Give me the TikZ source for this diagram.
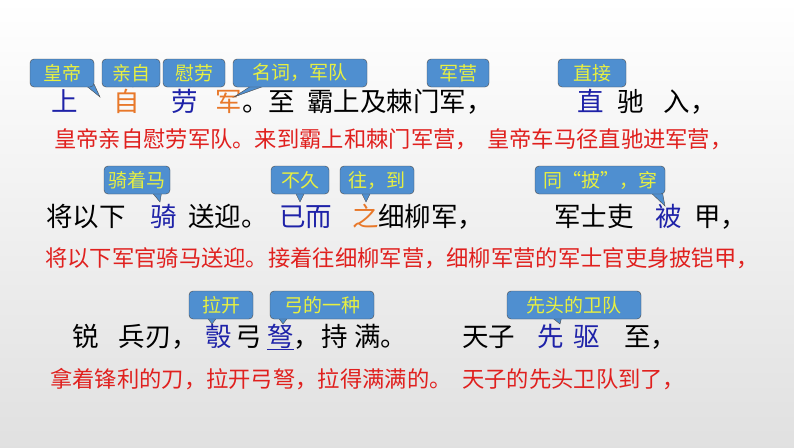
\documentclass[tikz,border=0pt]{standalone}
\usepackage{fontspec}
\setmainfont{Noto Sans CJK SC}
\begin{document}
\begin{tikzpicture}[x=1pt,y=-1pt,
  bub/.style={draw=black!70,fill=bubfill,rounded corners=4pt,text=bubtext,font=\fontsize{19}{19}\selectfont,inner sep=1pt,minimum height=28,anchor=center},
  mt/.style={font=\fontsize{26.5}{26.5}\selectfont,inner sep=0pt,anchor=base west},
  rt/.style={font=\fontsize{22.3}{22.3}\selectfont,inner sep=0pt,anchor=base west,text=redc}]
\definecolor{bubfill}{HTML}{4F8FD0}
\definecolor{bubtext}{HTML}{E8F040}
\definecolor{bluec}{HTML}{1E22A8}
\definecolor{orc}{HTML}{E8782A}
\definecolor{redc}{HTML}{E0201E}
\shade[top color=white,bottom color=black!12] (0,0) rectangle (794,447);
\useasboundingbox (0,0) rectangle (794,447);
\newcommand{\bb}[5]{%
  \node[bub,minimum width=#3] (#1) at (#2,#4) {#5};}
\newcommand{\tail}[4]{%
  \fill[bubfill] (#2,#1) -- (#4) -- (#3,#1) -- cycle;
  \draw[black!70] (#2,#1) -- (#4) -- (#3,#1);}
% line 1
\node[mt,text=bluec] (a1) at (51,111) {上};
\node[mt,text=orc] (a2) at (113,111) {自};
\node[mt,text=bluec] (a3) at (171,111) {劳};
\node[mt,text=orc] (a4) at (215,111) {军};
\node[mt] (a5) at (242,111) {。至\hspace{12pt}霸上及棘门军，};
\node[mt,text=bluec] (a6) at (577,111) {直};
\node[mt] (a7) at (617,111) {驰\hspace{20pt}入，};
\coordinate (t1) at (100,97); \coordinate (t2) at (133,87); \coordinate (t3) at (190,87);
\coordinate (t4) at (234,97); \coordinate (t5) at (460,87); \coordinate (t6) at (588,87);
\tail{84}{84}{94}{t1}\tail{84}{124}{134}{t2}\tail{84}{186}{196}{t3}\tail{84}{254}{270}{t4}
\tail{84}{452}{462}{t5}\tail{84}{582}{594}{t6}
\bb{b1}{62}{64}{73}{皇帝}
\bb{b2}{131}{58}{73}{亲自}
\bb{b3}{194}{62}{73}{慰劳}
\bb{b4}{300}{134}{73}{名词，军队}
\bb{b5}{458}{62}{73}{军营}
\bb{b6}{592}{68}{73}{直接}
\node[rt] (r1) at (54,147) {皇帝亲自慰劳军队。来到霸上和棘门军营，};
\node[rt] (r2) at (487,147) {皇帝车马径直驰进军营，};
% line 2
\node[mt] (c1) at (46,226) {将以下};
\node[mt,text=bluec] (c2) at (150,226) {骑};
\node[mt] (c3) at (188,226) {送迎。};
\node[mt,text=bluec] (c4) at (279,226) {已而};
\node[mt,text=orc] (c5) at (352,226) {之};
\node[mt] (c6) at (378,226) {细柳军，};
\node[mt] (c7) at (554,226) {军士吏};
\node[mt,text=bluec] (c8) at (655,226) {被};
\node[mt] (c9) at (694,226) {甲，};
\coordinate (u1) at (160,202); \coordinate (u2) at (300,202); \coordinate (u3) at (366,202); \coordinate (u4) at (665,206);
\tail{190}{150}{162}{u1}\tail{190}{294}{306}{u2}\tail{190}{360}{372}{u3}\tail{190}{648}{662}{u4}
\bb{d1}{137}{66}{180}{骑着马}
\bb{d2}{300}{58}{180}{不久}
\bb{d3}{377}{74}{180}{往，到}
\bb{d4}{600}{130}{180}{同“披”，穿}
\node[rt] (r3) at (45,266) {将以下军官骑马送迎。接着往细柳军营，细柳军营的军士官吏身披铠甲，};
% line 3
\node[mt] (e1) at (72,346) {锐\hspace{20pt}兵刃，};
\node[mt,text=bluec] (e2) at (205,346) {彀};
\node[mt] (e3) at (235,346) {弓};
\node[mt,text=bluec] (e4) at (267,346) {\underline{弩}};
\node[mt] (e5) at (293,346) {，\hspace{2pt}持\hspace{6pt}满。};
\node[mt] (e6) at (462,346) {天子};
\node[mt,text=bluec] (e7) at (537,346) {先\hspace{10pt}驱};
\node[mt] (e8) at (624,346) {至，};
\coordinate (v1) at (212,324); \coordinate (v2) at (283,324); \coordinate (v3) at (560,324);
\tail{316}{206}{218}{v1}\tail{316}{277}{289}{v2}\tail{316}{550}{562}{v3}
\bb{f1}{221}{64}{305}{拉开}
\bb{f2}{322}{104}{305}{弓的一种}
\bb{f3}{574}{134}{305}{先头的卫队}
\node[rt] (r4) at (50,387) {拿着锋利的刀，拉开弓弩，拉得满满的。};
\node[rt] (r5) at (462,387) {天子的先头卫队到了，};
\end{tikzpicture}
\end{document}
